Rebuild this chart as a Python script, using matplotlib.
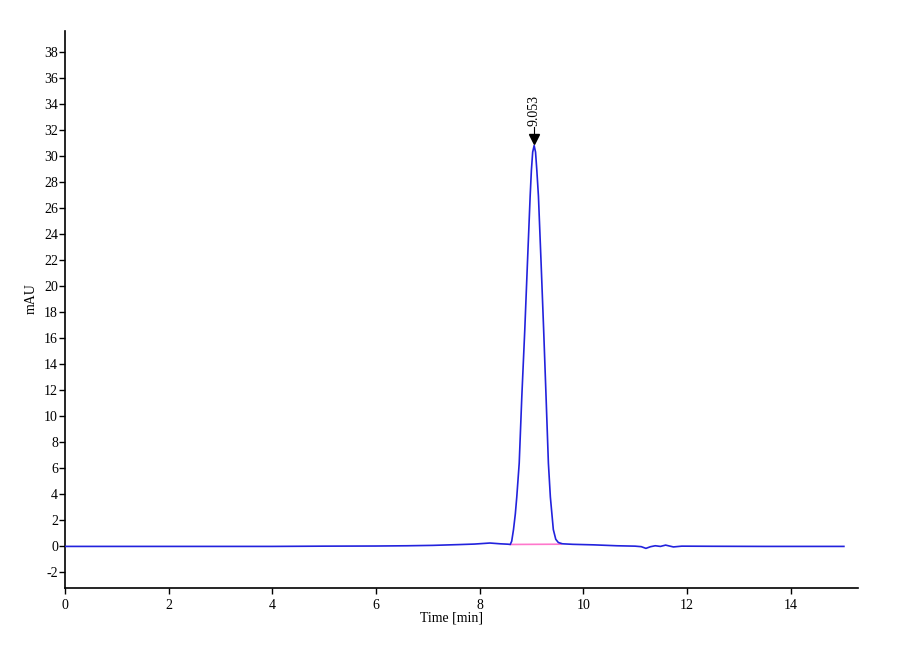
import matplotlib
matplotlib.use('Agg')
import matplotlib.pyplot as plt

# chromatogram trace (time in min, signal in mAU)
time_min = [0.0, 1.0, 2.0, 3.0, 4.0, 5.0, 6.0, 6.6, 7.1, 7.6, 7.9, 8.2, 8.4, 8.55,
            8.592, 8.62, 8.655, 8.69, 8.718, 8.765, 8.815, 8.872, 8.924, 8.976,
            9.0, 9.025, 9.053, 9.08, 9.105, 9.136, 9.187, 9.237, 9.283, 9.328, 9.366, 9.423,
            9.47, 9.52, 9.6, 9.8, 10.2, 10.65, 11.0, 11.12, 11.21, 11.3, 11.39,
            11.49, 11.59, 11.74, 11.9, 12.5, 13.5, 14.5, 15.03]
signal_mau = [0.0, 0.0, 0.0, 0.0, 0.0, 0.02, 0.03, 0.05, 0.08, 0.14, 0.18, 0.26, 0.2, 0.17,
              0.15, 0.4, 1.3, 2.5, 3.8, 6.4, 11.5, 16.6, 21.8, 26.9,
              28.9, 30.3, 30.8, 30.3, 28.9, 26.9, 21.8, 16.6, 11.5, 6.4, 3.8, 1.3,
              0.55, 0.3, 0.2, 0.16, 0.12, 0.05, 0.02, -0.02, -0.15, -0.02, 0.05,
              0.0, 0.1, -0.04, 0.02, 0.01, 0.0, 0.0, 0.0]

# integration baseline under the peak
base_t = [8.6, 9.57]
base_y = [0.15, 0.17]

peak_rt = 9.053
peak_h = 30.8

plt.rcParams['font.family'] = ['Liberation Serif', 'DejaVu Serif']
plt.rcParams['axes.unicode_minus'] = False

fig = plt.figure(figsize=(9, 6.6), dpi=100)
ax = fig.add_axes([0.0722, 0.109, 0.881, 0.844])

ax.plot(base_t, base_y, color='#ff77cc', lw=1.2, zorder=2)
ax.plot(time_min, signal_mau, color='#2222dd', lw=1.2, zorder=3)

ax.plot([peak_rt], [peak_h + 0.5], marker='v', color='black', markersize=7, zorder=4)
ax.plot([peak_rt, peak_rt], [peak_h + 0.5, peak_h + 1.4], color='black', lw=0.8)
ax.text(peak_rt, peak_h + 1.5, f'{peak_rt:.3f}', rotation=90, ha='center', va='bottom',
        fontsize=10)

ax.set_xlim(0, 15.3)
ax.set_ylim(-3.2, 39.6)
ax.set_xticks(range(0, 15, 2))
ax.set_yticks(range(-2, 39, 2))
ax.tick_params(direction='out', length=4, width=1, labelsize=10)
ax.tick_params(axis='x', pad=4)
ax.tick_params(axis='y', pad=1)

for side in ('top', 'right'):
    ax.spines[side].set_visible(False)
for side in ('left', 'bottom'):
    ax.spines[side].set_linewidth(1.2)

ax.set_xlabel('Time [min]', fontsize=10)
ax.set_ylabel('mAU', fontsize=10)
ax.xaxis.set_label_coords(0.487, -0.042)
ax.yaxis.set_label_coords(-0.035, 0.52)

fig.savefig('out.png', dpi=100)
